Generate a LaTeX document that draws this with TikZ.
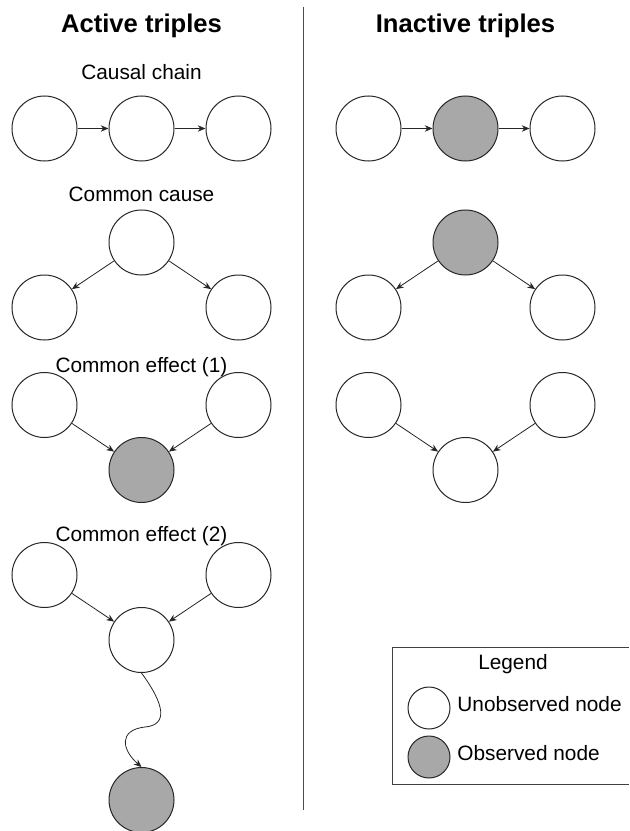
\documentclass[tikz,border=0pt]{standalone}
\usepackage{fontspec}
\setmainfont{Liberation Sans}
\usetikzlibrary{positioning, arrows.meta}
\definecolor{obsgray}{RGB}{168,168,168}

\begin{document}
\begin{tikzpicture}
    [
        x=0.75pt, y=-0.75pt,
        node distance=48.75pt and 72.75pt, on grid,
        unobs_node/.style={circle, draw=black!85, fill=white, line width=0.75pt, minimum size=48.75pt, inner sep=0pt},
        obs_node/.style={circle, draw=black!85, fill=obsgray, line width=0.75pt, minimum size=48.75pt, inner sep=0pt},
        edge/.style={-{Stealth[length=5.8pt, width=4.8pt]}, line width=0.6pt, color=black!85},
        title_text/.style={anchor=base, inner sep=0pt, font=\fontsize{19.2pt}{23pt}\selectfont\bfseries},
        label_text/.style={anchor=base, inner sep=0pt, font=\fontsize{15.6pt}{18pt}\selectfont},
    ]
        \useasboundingbox (0,0) rectangle (629,831);
        \node[title_text] (active) at (141.5,33) {Active triples} ;
        \node[title_text] (inactive) at (465.5,33) {Inactive triples} ;
        \draw[line width=0.75pt, color=black!70] (303.5,7) -- (303.5,810) ;
        \node[label_text] (lchain) at (141.5,80) {Causal chain} ;
        \node[label_text] (lcause) at (141.5,201) {Common cause} ;
        \node[label_text] (leff1) at (141.5,372) {Common effect (1)} ;
        \node[label_text] (leff2) at (141.5,541) {Common effect (2)} ;
        \node[unobs_node] (c1) at (44.5,128.5) {} ;
        \node[unobs_node] (c2) [right = of c1] {} ;
        \node[unobs_node] (c3) [right = of c2] {} ;
        \node[unobs_node] (cc) at (141.5,242.5) {} ;
        \node[unobs_node] (ccl) [below left = of cc] {} ;
        \node[unobs_node] (ccr) [below right = of cc] {} ;
        \node[obs_node] (e1) at (141.5,470) {} ;
        \node[unobs_node] (e1l) [above left = of e1] {} ;
        \node[unobs_node] (e1r) [above right = of e1] {} ;
        \node[unobs_node] (e2) at (141.5,640) {} ;
        \node[unobs_node] (e2l) [above left = of e2] {} ;
        \node[unobs_node] (e2r) [above right = of e2] {} ;
        \node[obs_node] (e2d) [below = 120pt of e2] {} ;
        \node[unobs_node] (ic1) at (368.5,128.5) {} ;
        \node[obs_node] (ic2) [right = of ic1] {} ;
        \node[unobs_node] (ic3) [right = of ic2] {} ;
        \node[obs_node] (icc) at (465.5,242.5) {} ;
        \node[unobs_node] (iccl) [below left = of icc] {} ;
        \node[unobs_node] (iccr) [below right = of icc] {} ;
        \node[unobs_node] (ie) at (465.5,470) {} ;
        \node[unobs_node] (iel) [above left = of ie] {} ;
        \node[unobs_node] (ier) [above right = of ie] {} ;
        \draw[edge] (c1) -- (c2) ;
        \draw[edge] (c2) -- (c3) ;
        \draw[edge] (cc) -- (ccl) ;
        \draw[edge] (cc) -- (ccr) ;
        \draw[edge] (e1l) -- (e1) ;
        \draw[edge] (e1r) -- (e1) ;
        \draw[edge] (e2l) -- (e2) ;
        \draw[edge] (e2r) -- (e2) ;
        \coordinate (turn) at (145,727) ;
        \draw[edge] (e2.south) .. controls (165,705) and (168,725) .. (turn) .. controls (118,730) and (122,750) .. (e2d.north) ;
        \draw[edge] (ic1) -- (ic2) ;
        \draw[edge] (ic2) -- (ic3) ;
        \draw[edge] (icc) -- (iccl) ;
        \draw[edge] (icc) -- (iccr) ;
        \draw[edge] (iel) -- (ie) ;
        \draw[edge] (ier) -- (ie) ;
        \draw[line width=0.75pt, color=black!75] (629,647) -- (392,647) -- (392,784) -- (629,784) ;
        \node[label_text] (legend) at (513,669) {Legend} ;
        \node[unobs_node, minimum size=31.5pt] (lu) at (429,708) {} ;
        \node[obs_node, minimum size=31.5pt] (lo) at (429,757) {} ;
        \node[label_text, anchor=west] (tu) at ([xshift=5pt, yshift=3pt]lu.east) {Unobserved node} ;
        \node[label_text, anchor=west] (to) at ([xshift=5pt, yshift=3pt]lo.east) {Observed node} ;
    \end{tikzpicture}
\end{document}
